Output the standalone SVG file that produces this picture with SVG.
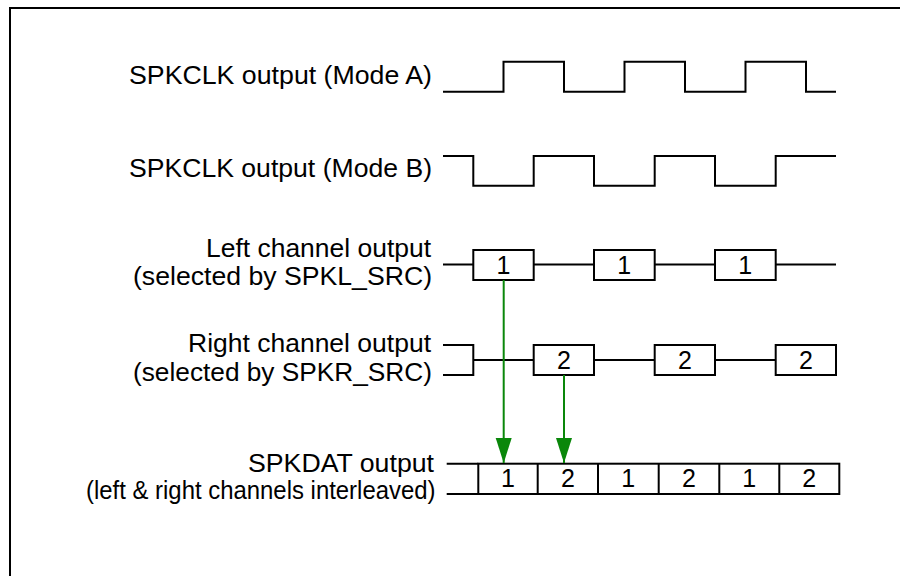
<svg xmlns="http://www.w3.org/2000/svg" width="900" height="576" viewBox="0 0 900 576">
<style>
.lbl{font-family:"Liberation Sans",Arial,sans-serif;font-size:26px;fill:#000}
.sm{font-size:25px}
.num{font-family:"Liberation Sans",Arial,sans-serif;font-size:25px;fill:#000;text-anchor:middle}
.w{fill:none;stroke:#000;stroke-width:2;stroke-linejoin:miter}
.bx{fill:#fff;stroke:#000;stroke-width:2}
.g{fill:none;stroke:#0a870a;stroke-width:2}
</style>
<defs>
<marker id="ah" markerUnits="userSpaceOnUse" markerWidth="18" markerHeight="26" refX="8" refY="25" orient="0" viewBox="0 0 16 26">
<path d="M0,0 L16,0 L8,25 Z" fill="#0a870a"/>
</marker>
</defs>
<rect x="10" y="8" width="900" height="580" fill="#fff" stroke="#000" stroke-width="2"/>

<g id="modeA">
<text class="lbl" x="129" y="84" textLength="303" lengthAdjust="spacingAndGlyphs">SPKCLK output (Mode A)</text>
<path class="w" d="M443,91.7 H503.5 V61.7 H564 V91.7 H624.5 V61.7 H685 V91.7 H745.5 V61.7 H806 V91.7 H836"/>
</g>

<g id="modeB">
<text class="lbl" x="129" y="176.5" textLength="303" lengthAdjust="spacingAndGlyphs">SPKCLK output (Mode B)</text>
<path class="w" d="M443,156 H473.3 V185.7 H533.7 V156 H594 V185.7 H654.7 V156 H715 V185.7 H775.7 V156 H836"/>
</g>

<g id="left">
<text class="lbl" x="206" y="257" textLength="225" lengthAdjust="spacingAndGlyphs">Left channel output</text>
<text class="lbl" x="133" y="285" textLength="299" lengthAdjust="spacingAndGlyphs">(selected by SPKL_SRC)</text>
<path class="w" d="M443,264.5 H836"/>
<rect class="bx" x="473.3" y="250" width="60.4" height="30"/>
<rect class="bx" x="594" y="250" width="60.7" height="30"/>
<rect class="bx" x="715" y="250" width="60.7" height="30"/>
<text class="num" x="503.5" y="273.5">1</text>
<text class="num" x="624.3" y="273.5">1</text>
<text class="num" x="745.3" y="273.5">1</text>
</g>

<g id="right">
<text class="lbl" x="188" y="352" textLength="243" lengthAdjust="spacingAndGlyphs">Right channel output</text>
<text class="lbl" x="133" y="380.5" textLength="299" lengthAdjust="spacingAndGlyphs">(selected by SPKR_SRC)</text>
<path class="w" d="M443,345 H473.3 V375 H443 M473.3,360 H836"/>
<rect class="bx" x="533.7" y="345" width="60.3" height="30"/>
<rect class="bx" x="654.7" y="345" width="60.3" height="30"/>
<rect class="bx" x="775.7" y="345" width="60.3" height="30"/>
<text class="num" x="564" y="368.5">2</text>
<text class="num" x="685" y="368.5">2</text>
<text class="num" x="806" y="368.5">2</text>
</g>

<g id="spkdat">
<text class="lbl" x="248" y="472" textLength="186" lengthAdjust="spacingAndGlyphs">SPKDAT output</text>
<text class="lbl sm" x="86" y="499" textLength="349.5" lengthAdjust="spacingAndGlyphs">(left &amp; right channels interleaved)</text>
<path class="w" d="M446.7,463.7 H478.3 M446.7,494 H478.3"/>
<rect class="bx" x="478.3" y="463.7" width="361" height="30.3"/>
<path class="w" d="M537.7,463.7 V494 M598,463.7 V494 M658.7,463.7 V494 M719.3,463.7 V494 M779.3,463.7 V494"/>
<text class="num" x="508" y="487">1</text>
<text class="num" x="568" y="487">2</text>
<text class="num" x="628.3" y="487">1</text>
<text class="num" x="689" y="487">2</text>
<text class="num" x="749.3" y="487">1</text>
<text class="num" x="809.3" y="487">2</text>
</g>

<g id="connectors">
<path class="g" d="M503.7,280 V463" marker-end="url(#ah)"/>
<path class="g" d="M564,375 V463" marker-end="url(#ah)"/>
</g>
</svg>
